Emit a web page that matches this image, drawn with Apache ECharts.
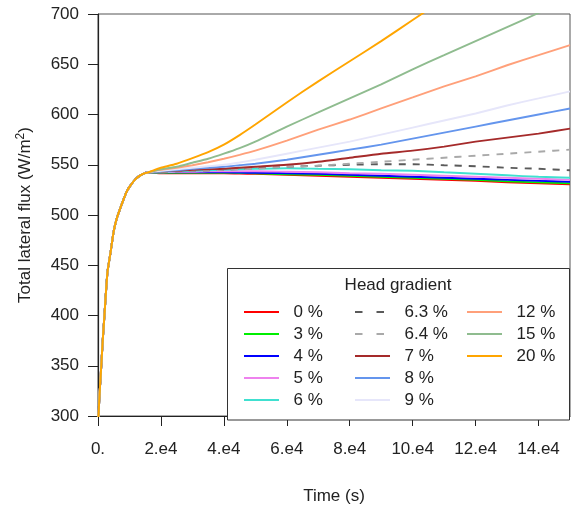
<!DOCTYPE html>
<html><head><meta charset="utf-8">
<script src="https://cdn.jsdelivr.net/npm/echarts@6/dist/echarts.min.js"></script>
<style>html,body{margin:0;padding:0;background:#fff}#c{width:571px;height:510px}</style>
</head><body><div id="c"></div>
<script>
// shared initial rise (all gradients coincide)
const riseTimes = [0,500,1000,1500,2000,3000,4000,5000,6000,7000,8000,9000,10000,12000,14000,16000];
const riseValues = [290,322,348,375,398,443,463,484,497,506,514.5,522.5,528,536,540.5,542.5];
// later times where curves diverge
const tailTimes = [18000,20000,25000,30000,35000,40000,45000,50000,60000,70000,80000,90000,100000,110000,120000,130000,140000,150000];
const g0   = [542,541.5,541.5,541.5,541.5,541.5,541.2,541,540,539,538,537,536,535,534,532.5,531.5,530.5];
const g3   = [542,542,542,542,542,542,541.8,541.5,540.5,540,539,538,537,536,535,533.5,532.5,531.5];
const g4   = [542.5,542.5,542.5,542.5,542.5,542.5,542.2,542,541.5,541,540,539,538,537,536,535,534,533];
const g5   = [542.5,542.5,543,543,543.5,543.5,543.5,543.5,543,542.5,541.5,541,540,539,538,537,536,535];
const g6   = [543,543,543.5,544,544.5,545,545.5,546,546.5,546,545.5,544.6,544,542.5,541,539.5,538,537];
const g6_3 = [543,543,543.5,544,544.5,545,545.8,546.5,548,549,550,550.5,550.5,549.5,548.5,547,546,544.5];
const g6_4 = [543,543,543.5,544,544.5,545,545.5,546,548,549,551,553,555,557,559,561,563,565];
const g7   = [543,543.5,544,545,545.5,546,547,548,550,553,557,561,564,568,573,577,581,586];
const g8   = [543,543.5,544.5,546,547,548,549.5,551,555,560,565,570,576,582,588,594,600,606];
const g9   = [543.5,544,545.5,547,548.5,550,552.3,555,561,567,573,580,587,594,601,609,616,623];
const g12  = [544,545,547,549.5,552.5,556,559.8,564,574,585,595,606,617,628,638,649,659,669];
const g15  = [544,545.5,548,552,556,561,566.5,573,588,602,616,630,645,659,673,687,701,715];
const g20  = [545,547,551,556.5,562.5,570,579.5,590,612,633,653,673,694,715,736,757,778,799];

const seriesNames = ['0 %','3 %','4 %','5 %','6 %','6.3 %','6.4 %','7 %','8 %','9 %','12 %','15 %','20 %'];
const seriesTails = [g0,g3,g4,g5,g6,g6_3,g6_4,g7,g8,g9,g12,g15,g20];
const seriesColors = ['#ff0000','#00ee00','#0000ff','#ee82ee','#40e0d0','#5a5a5a','#a9a9a9','#a52a2a','#6495ed','#e6e6fa','#ffa07a','#8fbc8f','#ffa500'];
const dashedNames = ['6.3 %','6.4 %'];

const xTickValues = [0,20000,40000,60000,80000,100000,120000,140000];
const xTickLabels = ['0.','2.e4','4.e4','6.e4','8.e4','10.e4','12.e4','14.e4'];

const FONT = '"Liberation Sans", Arial, sans-serif';
const FS = 17;

const times = riseTimes.concat(tailTimes);
const series = seriesNames.map((name, i) => {
  const vals = riseValues.concat(seriesTails[i]);
  const dashed = dashedNames.includes(name);
  return {
    name, type: 'line', symbol: 'none', showSymbol: false, smooth: 0.2,
    clip: true, animation: false,
    data: times.map((t, k) => [t, vals[k]]),
    lineStyle: { color: seriesColors[i], width: 1.9, type: dashed ? [7, 7] : 'solid' },
    itemStyle: { color: seriesColors[i] }
  };
});

function legendCol(names, left) {
  return {
    orient: 'vertical', left, top: 303.5, padding: 0,
    itemWidth: 35, itemHeight: 16, itemGap: 5,
    selectedMode: false,
    itemStyle: { opacity: 0, borderWidth: 0 },
    lineStyle: { width: 2 },
    textStyle: { fontSize: FS, fontFamily: FONT, color: '#222', padding: [0, 0, 0, 9.5], lineHeight: 16 },
    data: names.map(n => dashedNames.includes(n)
      ? { name: n, lineStyle: { type: [7.5, 14] } }
      : { name: n })
  };
}

const chart = echarts.init(document.getElementById('c'), null, { renderer: 'canvas' });
chart.setOption({
  animation: false,
  backgroundColor: '#fff',
  grid: { left: 98, right: 1, top: 14, bottom: 90, show: true, borderColor: '#555', borderWidth: 1, backgroundColor: 'transparent' },
  xAxis: {
    type: 'value', min: 0, max: 150000, interval: 20000,
    name: 'Time (s)', nameLocation: 'middle', nameGap: 72,
    nameTextStyle: { fontSize: FS, fontFamily: FONT, color: '#222' },
    axisLine: { lineStyle: { color: '#222', width: 1.2 } },
    axisTick: { length: 10, customValues: xTickValues, lineStyle: { color: '#222' } },
    axisLabel: { customValues: xTickValues, margin: 25, fontSize: FS, fontFamily: FONT, color: '#222',
      formatter: v => xTickLabels[xTickValues.indexOf(v)] ?? '' },
    splitLine: { show: false }
  },
  yAxis: {
    type: 'value', min: 300, max: 700, interval: 50,
    name: 'Total lateral flux (W/m{sup|2})', nameLocation: 'middle', nameGap: 62,
    nameTextStyle: { fontSize: FS, fontFamily: FONT, color: '#222',
      rich: { sup: { fontSize: 12, fontFamily: FONT, color: '#222', verticalAlign: 'top', padding: [0, 0, 9, 0] } } },
    axisLine: { lineStyle: { color: '#222', width: 1.2 } },
    axisTick: { length: 10, lineStyle: { color: '#222' } },
    axisLabel: { margin: 19, fontSize: FS, fontFamily: FONT, color: '#222' },
    splitLine: { show: false }
  },
  legend: [
    legendCol(seriesNames.slice(0, 5), 243),
    legendCol(seriesNames.slice(5, 10), 354),
    legendCol(seriesNames.slice(10, 13), 466)
  ],
  graphic: [
    { type: 'rect', z: 1, shape: { x: 227.5, y: 268.5, width: 342, height: 151.5 },
      style: { fill: '#fff', stroke: '#333', lineWidth: 1 } },
    { type: 'text', z: 10, x: 398, y: 285,
      style: { text: 'Head gradient', fontSize: FS, fontFamily: FONT, fill: '#222', align: 'center', verticalAlign: 'middle' } }
  ],
  series
});
</script></body></html>
